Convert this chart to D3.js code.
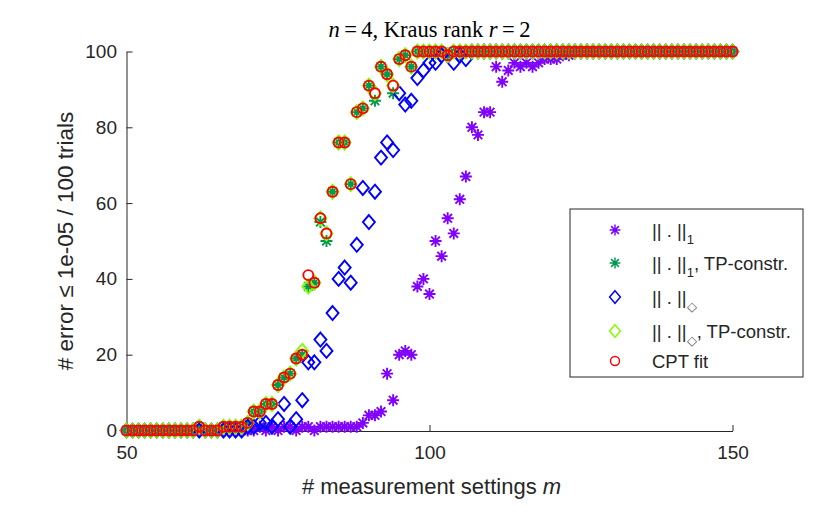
<html>
<head>
<meta charset='UTF-8'>
<script src="https://d3js.org/d3.v7.min.js"></script>
<style>
  body { margin: 0; background: #fff; }
  text { font-family: 'Liberation Sans', Arial, sans-serif; fill: #262626; }
  .axis path, .axis line { stroke: #262626; }
</style>
</head>
<body>
<svg id="chart" width="834" height="515"></svg>
<script>
// measurement settings m = 50 .. 150
const mValues = d3.range(50, 151);

// number of successes out of 100 trials, per method
const l1 = [
  0,0,0,0,0,0,0,0,0,0,
  0,0,0,0,0,0,0,0,0,0,
  0,0,1,0,1,0,1,1,0,1,
  1,0,1,1,1,1,1,1,1,2,
  4,4,5,15,8,20,21,20,38,40,
  36,50,46,56,52,61,67,80,78,84,
  84,96,92,95,97,96,97,96,97,98,
  98,98,99,99,100,100,100,100,100,100,
  100,100,100,100,100,100,100,100,100,100,
  100,100,100,100,100,100,100,100,100,100,
  100];
const l1TP = [
  0,0,0,0,0,0,0,0,0,0,
  0,0,1,0,0,0,1,1,1,1,
  2,5,5,7,7,12,14,15,19,20,
  38,39,55,50,63,76,76,65,84,85,
  91,87,96,94,89,98,99,96,100,100,
  100,100,100,99,100,100,100,100,100,100,
  100,100,100,100,100,100,100,100,100,100,
  100,100,100,100,100,100,100,100,100,100,
  100,100,100,100,100,100,100,100,100,100,
  100,100,100,100,100,100,100,100,100,100,
  100];
const dia = [
  0,0,0,0,0,0,0,0,0,0,
  0,0,0,0,0,0,0,0,0,0,
  1,1,2,2,1,3,7,1,3,8,
  18,18,24,21,31,40,43,39,49,64,
  55,63,72,76,74,89,86,87,93,95,
  97,97,99,99,97,99,98,100,100,100,
  100,100,100,100,100,100,100,100,100,100,
  100,100,100,100,100,100,100,100,100,100,
  100,100,100,100,100,100,100,100,100,100,
  100,100,100,100,100,100,100,100,100,100,
  100];
const diaTP = [
  0,0,0,0,0,0,0,0,0,0,
  0,0,1,0,0,0,1,1,1,1,
  2,5,5,7,7,12,14,15,19,21,
  38,39,56,52,63,76,76,65,84,85,
  91,89,96,94,91,98,99,96,100,100,
  100,100,100,99,100,100,100,100,100,100,
  100,100,100,100,100,100,100,100,100,100,
  100,100,100,100,100,100,100,100,100,100,
  100,100,100,100,100,100,100,100,100,100,
  100,100,100,100,100,100,100,100,100,100,
  100];
const cpt = [
  0,0,0,0,0,0,0,0,0,0,
  0,0,1,0,0,0,1,1,1,1,
  2,5,5,7,7,12,14,15,19,20,
  41,39,56,52,63,76,76,65,84,85,
  91,89,96,94,91,98,99,96,100,100,
  100,100,100,99,100,100,100,100,100,100,
  100,100,100,100,100,100,100,100,100,100,
  100,100,100,100,100,100,100,100,100,100,
  100,100,100,100,100,100,100,100,100,100,
  100,100,100,100,100,100,100,100,100,100,
  100];

const xTicks = [50, 100, 150];
const yTicks = [0, 20, 40, 60, 80, 100];

const series = [
  {name: 'l1',    values: l1,    marker: 'star',    color: '#7f00ff'},
  {name: 'l1TP',  values: l1TP,  marker: 'star',    color: '#00994d'},
  {name: 'dia',   values: dia,   marker: 'diamond', color: '#0000ff'},
  {name: 'diaTP', values: diaTP, marker: 'diamond', color: '#7fff00'},
  {name: 'cpt',   values: cpt,   marker: 'circle',  color: '#ff0000'}
];

const svg = d3.select('#chart');
const margin = {left: 126.5, right: 101.5, top: 51.5, bottom: 84.5};
const width = +svg.attr('width');
const height = +svg.attr('height');

const x = d3.scaleLinear().domain([50, 150]).range([margin.left, width - margin.right]);
const y = d3.scaleLinear().domain([0, 100]).range([height - margin.bottom, margin.top]);

// marker shapes (MATLAB style)
function markerPath(type) {
  if (type === 'star') {
    const r = 6, d = 4.3;
    return `M${-r},0L${r},0M0,${-r}L0,${r}M${-d},${-d}L${d},${d}M${-d},${d}L${d},${-d}`;
  }
  if (type === 'diamond') {
    return 'M0,-7L6,0L0,7L-6,0Z';
  }
  return d3.symbol(d3.symbolCircle, 78)();
}

// axes
const xAxis = d3.axisBottom(x).tickValues(xTicks).tickSizeInner(-6).tickSizeOuter(0).tickPadding(15);
const yAxis = d3.axisLeft(y).tickValues(yTicks).tickSizeInner(-6).tickSizeOuter(0).tickPadding(9.5);

svg.append('g').attr('class', 'axis')
  .attr('transform', `translate(0,${y(0) + 0.5})`)
  .call(xAxis)
  .call(g => g.selectAll('text').attr('font-size', 19).style('font-family', "'Liberation Sans', Arial, sans-serif"));

svg.append('g').attr('class', 'axis')
  .attr('transform', `translate(${x(50)},0)`)
  .call(yAxis)
  .call(g => g.selectAll('text').attr('font-size', 19).style('font-family', "'Liberation Sans', Arial, sans-serif"));

// markers
const plot = svg.append('g').attr('id', 'points');
series.forEach(s => {
  plot.append('g')
    .selectAll('path')
    .data(s.values.map((v, i) => ({m: mValues[i], v: v})))
    .join('path')
    .attr('d', markerPath(s.marker))
    .attr('transform', d => `translate(${x(d.m)},${y(d.v)})`)
    .attr('fill', 'none')
    .attr('stroke', s.color)
    .attr('stroke-width', 1.9);
});

// title
const title = svg.append('text')
  .attr('x', (x(50) + x(150)) / 2)
  .attr('y', 37)
  .attr('text-anchor', 'middle')
  .style('font-family', "'Liberation Serif', 'Times New Roman', serif")
  .attr('font-size', 22.5)
  .style('fill', '#000');
title.append('tspan').attr('font-style', 'italic').text('n');
title.append('tspan').text('\u2009=\u20094, Kraus rank ');
title.append('tspan').attr('font-style', 'italic').text('r');
title.append('tspan').text('\u2009=\u20092');

// axis labels
const xl = svg.append('text')
  .attr('x', (x(50) + x(150)) / 2 + 2)
  .attr('y', 494)
  .attr('text-anchor', 'middle')
  .attr('font-size', 22);
xl.append('tspan').text('# measurement settings ');
xl.append('tspan').attr('font-style', 'italic').text('m');

svg.append('text')
  .attr('transform', `translate(73,${(y(0) + y(100)) / 2}) rotate(-90)`)
  .attr('text-anchor', 'middle')
  .attr('font-size', 22.5)
  .text('# error \u2264 1e-05 / 100 trials');

// legend
const legend = svg.append('g').attr('transform', 'translate(570,209)');
legend.append('rect')
  .attr('width', 233).attr('height', 168)
  .attr('fill', '#fff').attr('stroke', '#262626').attr('stroke-width', 1);

const legendRows = [
  {sub: '1',      extra: ''},
  {sub: '1',      extra: ', TP-constr.'},
  {sub: '\u25C7', extra: ''},
  {sub: '\u25C7', extra: ', TP-constr.'},
  {sub: null,     extra: 'CPT fit'}
];
const rowY = [21, 54, 88, 122, 152];

series.forEach((s, i) => {
  const row = legend.append('g').attr('transform', `translate(0,${rowY[i]})`);
  row.append('path')
    .attr('d', markerPath(s.marker))
    .attr('transform', 'translate(45,0) scale(0.9)')
    .attr('fill', 'none')
    .attr('stroke', s.color)
    .attr('stroke-width', 1.6);
  const t = row.append('text').attr('x', 82).attr('y', 7).attr('font-size', 18.5);
  const r = legendRows[i];
  if (r.sub !== null) {
    t.append('tspan').text('|| . ||');
    t.append('tspan').attr('dy', 7).attr('font-size', 13)
      .style('fill', r.sub === '1' ? '#262626' : '#555').text(r.sub);
    t.append('tspan').attr('dy', -7).text(r.extra);
  } else {
    t.text(r.extra);
  }
});
</script>
</body>
</html>
